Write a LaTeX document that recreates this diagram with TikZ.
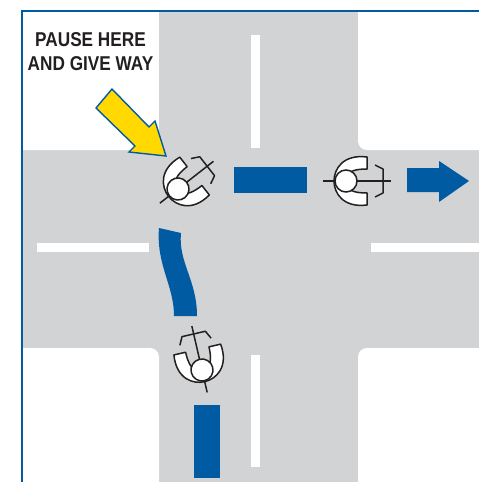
\documentclass[tikz,border=0pt]{standalone}
\usepackage{fontspec}
\setmainfont{Liberation Sans}[FakeStretch=0.86]
\definecolor{roadgrey}{HTML}{D1D3D4}
\definecolor{signblue}{HTML}{005BA3}
\definecolor{signyellow}{HTML}{FFD900}
\definecolor{inkblack}{HTML}{231F20}
\tikzset{
  road/.style={fill=roadgrey,draw=none},
  corner/.style={fill=white,draw=none,rounded corners=9pt},
  lane/.style={fill=white,draw=none},
  bluemark/.style={fill=signblue,draw=none},
  frameline/.style={draw=signblue,line width=1.6pt},
  bikeline/.style={draw=inkblack,line width=1.5pt},
  bike/.pic={
    \draw[bikeline] (-23,0) -- (45,0);
    \draw[bikeline,line join=round] (29,-16) -- (37,-12) -- (37,12) -- (29,16);
    \draw[bikeline,fill=white,line join=round] (21,-24)
      .. controls (-3,-27) and (-12,-12) .. (-12,0)
      .. controls (-12,12) and (-3,27) .. (21,24)
      -- (21,12) .. controls (10,12) and (4,10) .. (0,6)
      -- (0,-6) .. controls (4,-10) and (10,-12) .. (21,-12) -- cycle;
    \draw[bikeline,fill=white] (0,0) circle[radius=11];
  },
  caption/.style={text=inkblack,font=\bfseries\fontsize{20}{24}\selectfont,align=center,inner sep=0pt}
}
\begin{document}
\begin{tikzpicture}[x=1pt,y=-1pt]
\useasboundingbox (0,0) rectangle (479,482);
\fill[white] (0,0) rectangle (479,482);
% roads
\fill[road] (22,11) rectangle (479,482);
\fill[corner] (10,0) rectangle (159,150);
\fill[corner] (358,0) rectangle (495,150);
\fill[corner] (10,348) rectangle (159,495);
\fill[corner] (358,348) rectangle (495,495);
\fill[white] (0,0) rectangle (479,11);
\fill[white] (0,0) rectangle (22,482);
\fill[road] (159,11) rectangle (358,160);
% frame
\draw[frameline] (22,482) -- (22,11) -- (479,11);
% lane markings
\fill[lane] (251,35) rectangle (260,148);
\fill[lane] (251,355) rectangle (260,467);
\fill[lane] (37,243) rectangle (149,252);
\fill[lane] (371,243) rectangle (479,252);
% blue marks
\fill[bluemark] (234,167) rectangle (307,193);
\fill[bluemark] (194,405) rectangle (220,478);
\fill[bluemark] (407,168) -- (439,168) -- (439,161) -- (469,181) -- (439,202) -- (439,192) -- (407,192) -- cycle;
\fill[bluemark] (159,228) -- (181,233)
  .. controls (178,262) and (197,280) .. (197,316)
  -- (174,316)
  .. controls (174,285) and (156,265) .. (159,228) -- cycle;
% yellow arrow
\draw[draw=signblue,fill=signyellow,line width=1.4pt,line join=miter]
  (112,89) -- (96,108) -- (135,146) -- (129,152) -- (166,156) -- (155,121) -- (149,127) -- cycle;
% bikes
\pic[rotate=38] at (178,189) {bike};
\pic at (346,181) {bike};
\pic[rotate=103] at (202,370) {bike};
% text
\node[caption] (label) at (90.5,51.5) {PAUSE HERE\\AND GIVE WAY};
\end{tikzpicture}
\end{document}
